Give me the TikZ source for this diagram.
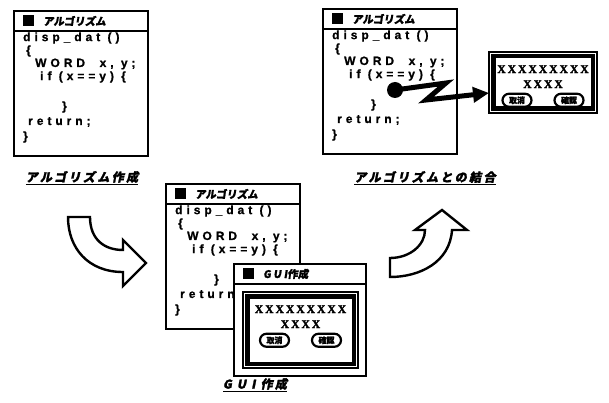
\documentclass[tikz,border=0pt]{standalone}
\usepackage{fontspec}
\usepackage{tikz}
\usetikzlibrary{arrows.meta,calc,positioning}
\newfontfamily\jpfont[FakeSlant=0.15,FakeBold=1.5]{Noto Sans CJK JP}
\newfontfamily\capfont[LetterSpace=20,FakeSlant=0.2,FakeBold=2]{Noto Sans CJK JP}
\newfontfamily\codefont[LetterSpace=33,FakeBold=1]{Liberation Sans}
\newfontfamily\xmarkfont[LetterSpace=18,FakeBold=2]{Liberation Serif}
\newfontfamily\btnfont[FakeBold=2]{Noto Sans CJK JP}
\tikzset{
  winframe/.style={draw,line width=2.4pt,fill=white,inner sep=0pt,anchor=north west},
  codeline/.style={anchor=west,inner sep=0pt,font=\codefont\bfseries\fontsize{12}{13}\selectfont},
  wintitle/.style={anchor=west,inner sep=0pt,font=\jpfont\bfseries\fontsize{10.5}{12}\selectfont},
  caption/.style={inner sep=1pt,font=\capfont\bfseries\fontsize{12}{14}\selectfont},
  xmarks/.style={inner sep=0pt,font=\xmarkfont\bfseries\fontsize{11.5}{12}\selectfont},
  btn/.style={draw,fill=white,line width=2.2pt,rounded corners=6.5pt,minimum width=29pt,minimum height=13pt,inner sep=0pt,font=\btnfont\bfseries\fontsize{8}{9}\selectfont},
  bigarrow/.style={draw,line width=2.4pt,fill=white,line join=miter},
  zig/.style={line width=5pt,-{Triangle[length=16pt,width=15pt]}}
}
\newcommand{\winbar}[2]{%
  \draw[line width=2pt] ([yshift=-21pt]#1.north west) -- ([yshift=-21pt]#1.north east);
  \fill ([shift={(10,5)}]#1.north west) rectangle ++(11,11);
  \node[wintitle] (#1title) at ([shift={(30,11)}]#1.north west) {#2};
}
\newcommand{\algowindow}[3]{%
  \node[winframe,minimum width=134pt,minimum height=145pt] (#3) at (#1,#2) {};
  \winbar{#3}{アルゴリズム}
  \foreach \cx/\cy/\ctext in {10/28/{disp\_dat ()},13/41/{\{},22/54/{WORD\ \ x, y;},27/67/{if (x==y) \{},49/97/{\}},15/112/{return;},10/127/{\}}}
    \node[codeline] (#3-\cy) at ([shift={(\cx,\cy)}]#3.north west) {\ctext};
}
\newcommand{\guidialog}[5]{%
  \node[draw,fill=white,line width=1.5pt,minimum width=#3,minimum height=#4,inner sep=0pt] (#5) at (#1,#2) {};
  \draw[line width=4.5pt] ([shift={(5,5)}]#5.north west) rectangle ([shift={(-5,-5)}]#5.south east);
  \node[xmarks] (#5long) at ([yshift=-18pt]#5.north) {XXXXXXXXX};
  \node[xmarks] (#5short) at ([yshift=-33pt]#5.north) {XXXX};
  \node[btn] (#5no) at ([shift={(-26,49)}]#5.north) {取消};
  \node[btn] (#5ok) at ([shift={(26,49)}]#5.north) {確認};
}

\begin{document}
\begin{tikzpicture}[x=1pt,y=-1pt]
  \useasboundingbox (0,0) rectangle (609,403);
  \algowindow{13}{10}{algoA}
  \node[caption] (capA) at (82,178) {\underline{アルゴリズム作成}};
  \algowindow{322}{8}{algoB}
  \guidialog{543}{82.5}{108pt}{61pt}{dlgB}
  \node[circle,fill,inner sep=0pt,minimum size=16pt] (hook) at (395,90) {};
  \coordinate (dlgBin) at (489,93);
  \draw[zig] (hook.center) -- ++(51,-7) -- ++(-20,17) -- (dlgBin);
  \node[caption] (capB) at (425,178) {\underline{アルゴリズムとの結合}};
  \algowindow{165}{183}{algoC}
  \node[winframe,minimum width=132pt,minimum height=112pt] (guiC) at (233,263) {};
  \winbar{guiC}{G U I作成}
  \guidialog{300.5}{330}{115pt}{76pt}{dlgC}
  \node[caption] (capC) at (255,385) {\underline{G U I 作成}};
  \draw[bigarrow] (68,217) -- (90,217) .. controls (90,240) and (105,250) .. (123,250)
    -- (123,240) -- (146,263) -- (123,286) -- (123,272)
    .. controls (88,272) and (68,248) .. (68,217) -- cycle;
  \draw[bigarrow] (390,258) .. controls (410,258) and (425,245) .. (425,230)
    -- (415,230) -- (442,210) -- (467,230) -- (452,230)
    .. controls (450,262) and (420,277) .. (390,277) -- cycle;
\end{tikzpicture}
\end{document}
